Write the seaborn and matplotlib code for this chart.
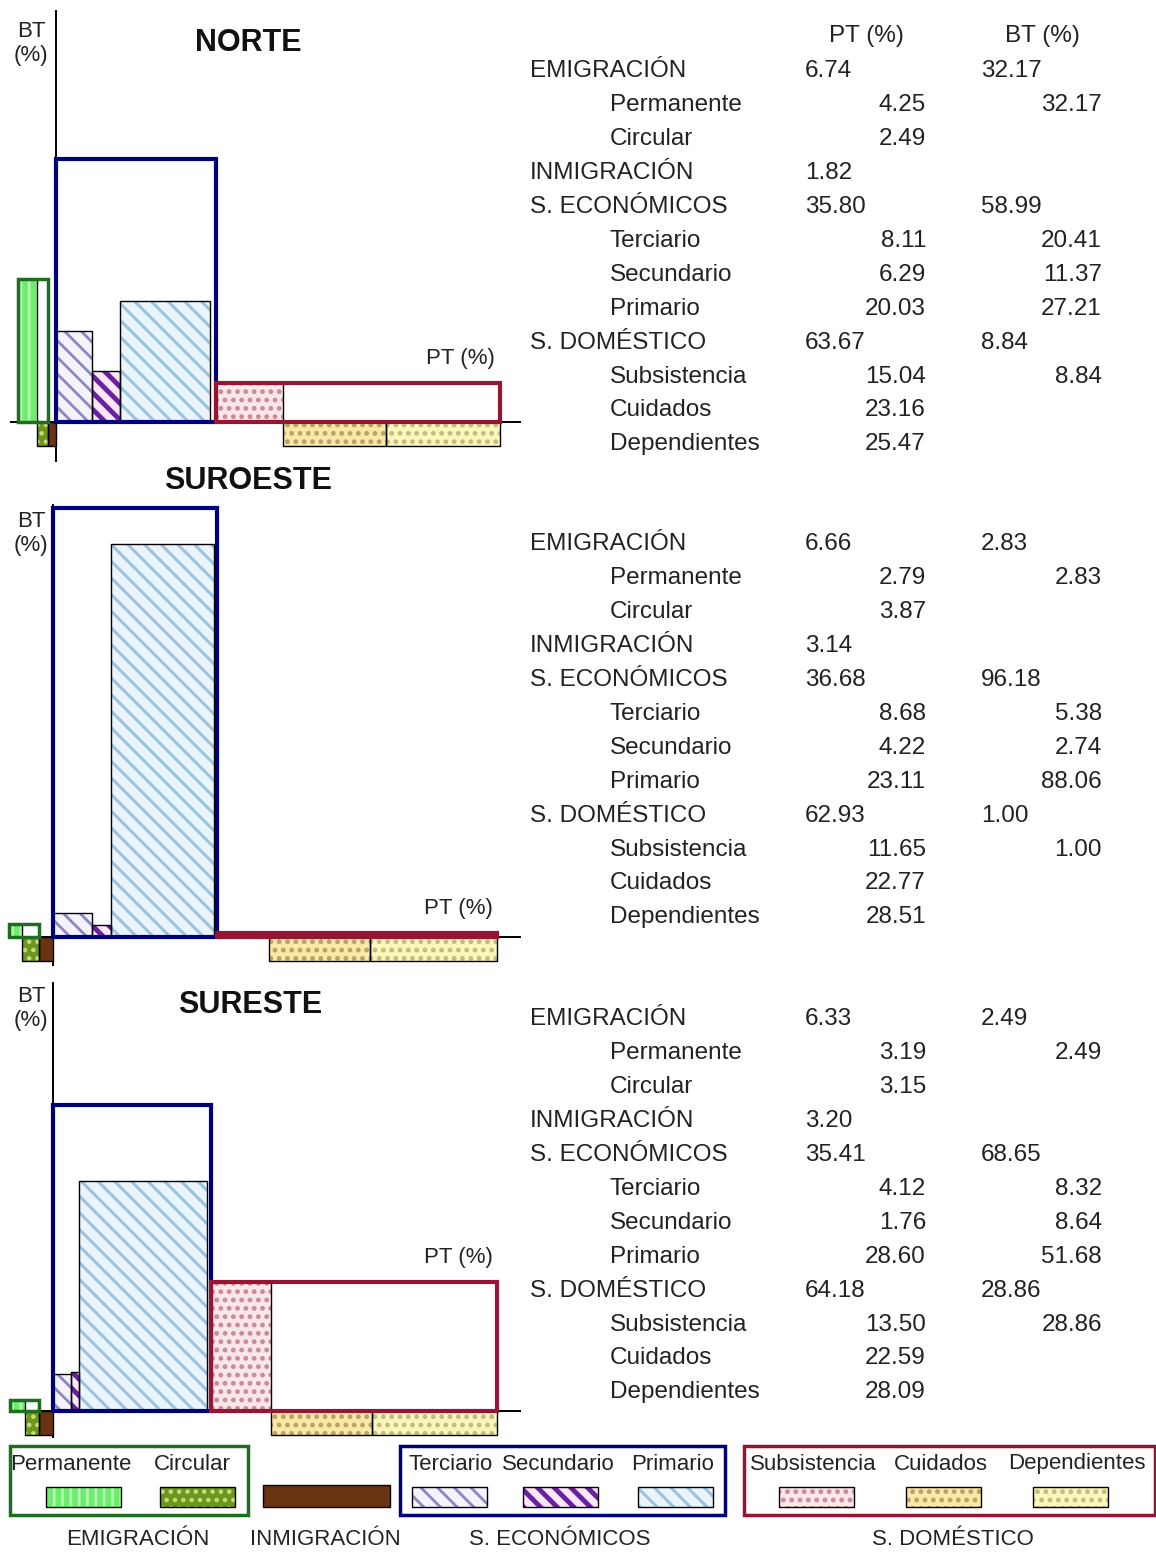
import matplotlib
matplotlib.use('Agg')
import matplotlib.pyplot as plt
import seaborn as sns
from matplotlib.patches import Rectangle

# Datos por región (PT % y BT %)
regiones = ['NORTE', 'SUROESTE', 'SURESTE']
emig_pt = [6.74, 6.66, 6.33]
emig_bt = [32.17, 2.83, 2.49]
perm_pt = [4.25, 2.79, 3.19]
perm_bt = [32.17, 2.83, 2.49]
circ_pt = [2.49, 3.87, 3.15]
inm_pt = [1.82, 3.14, 3.20]
econ_pt = [35.80, 36.68, 35.41]
econ_bt = [58.99, 96.18, 68.65]
terc_pt = [8.11, 8.68, 4.12]
terc_bt = [20.41, 5.38, 8.32]
sec_pt = [6.29, 4.22, 1.76]
sec_bt = [11.37, 2.74, 8.64]
prim_pt = [20.03, 23.11, 28.60]
prim_bt = [27.21, 88.06, 51.68]
dom_pt = [63.67, 62.93, 64.18]
dom_bt = [8.84, 1.00, 28.86]
subs_pt = [15.04, 11.65, 13.50]
subs_bt = [8.84, 1.00, 28.86]
cuid_pt = [23.16, 22.77, 22.59]
dep_pt = [25.47, 28.51, 28.09]

sns.set_theme(style='white')
plt.rcParams['font.family'] = ['Liberation Sans', 'DejaVu Sans']
plt.rcParams['hatch.linewidth'] = 2.0

W, H = 1156, 1552
S = 4.46          # pixeles por punto porcentual
PROF = 5.3        # profundidad de las barras sin BT (bajo el eje)
VERDE, AZUL, ROJO = '#1f6e1f', '#00007a', '#951532'

estilos = {
    'Permanente':   dict(color='#6cee6c', edgecolor='#b2f5b2', hatch='||', hlw=2.0),
    'Circular':     dict(color='#6c961c', edgecolor='#c6df7c', hatch='..', hlw=2.0),
    'Inmigración':  dict(color='#6a3413', edgecolor='#6a3413', hatch=None, hlw=1.0),
    'Terciario':    dict(color='#f4f2fb', edgecolor='#8a87c6', hatch='\\\\', hlw=2.0),
    'Secundario':   dict(color='#fbe6f6', edgecolor='#6a20a0', hatch='\\\\', hlw=3.5),
    'Primario':     dict(color='#e9f5fb', edgecolor='#9cc4dd', hatch='\\\\', hlw=2.2),
    'Subsistencia': dict(color='#fbe6ea', edgecolor='#c98a92', hatch='..', hlw=2.2),
    'Cuidados':     dict(color='#f8e9a6', edgecolor='#b9a06a', hatch='..', hlw=2.2),
    'Dependientes': dict(color='#fbf6bc', edgecolor='#c2bb7c', hatch='..', hlw=2.2),
}

fig = plt.figure(figsize=(W / 100, H / 100), dpi=100)


def fx(px):
    return px / W


def fy(py):
    return 1 - py / H


def grosor_trama(parches, lw):
    for p in parches:
        if hasattr(p, 'set_hatch_linewidth'):
            p.set_hatch_linewidth(lw)


def barra(ax, x0, w, h, nombre):
    e = estilos[nombre]
    b = ax.bar(x0, h, width=w, align='edge', color=e['color'], edgecolor=e['edgecolor'],
               hatch=e['hatch'], linewidth=0, zorder=2, clip_on=False)
    grosor_trama(b.patches, e['hlw'])
    ax.bar(x0, h, width=w, align='edge', fill=False, edgecolor='black',
           linewidth=1, zorder=3, clip_on=False)


def caja(ax, x0, w, h, color, lw=3):
    ax.bar(x0, h, width=w, align='edge', fill=False, edgecolor=color,
           linewidth=lw, zorder=4, clip_on=False)


# origen x, origen y, arriba, abajo (pixeles)
paneles = [(56, 422, 10, 462), (53, 937, 504, 966), (53, 1411, 982, 1438)]
titulos_xy = [(248, 43), (248, 481), (250, 1005)]
bt_lab_y = [30, 520, 995]
izq, der = 10, 521

for i, reg in enumerate(regiones):
    ox, oy, top, bot = paneles[i]
    ax = fig.add_axes([fx(izq), fy(bot), (der - izq) / W, (bot - top) / H])
    ax.set_xlim((izq - ox) / S, (der - ox) / S)
    ax.set_ylim(-(bot - oy) / S, (oy - top) / S)
    ax.set_axis_off()
    ax.axhline(0, color='black', lw=1.4, zorder=1)
    ax.axvline(0, color='black', lw=1.4, zorder=1)

    # Emigración e inmigración (a la izquierda del origen)
    x_em = -(inm_pt[i] + emig_pt[i])
    barra(ax, x_em, perm_pt[i], perm_bt[i], 'Permanente')
    barra(ax, x_em + perm_pt[i], circ_pt[i], -PROF, 'Circular')
    barra(ax, -inm_pt[i], inm_pt[i], -PROF, 'Inmigración')
    caja(ax, x_em, emig_pt[i], emig_bt[i], VERDE, lw=2.5)

    # Sectores económicos
    x = 0
    for pt, bt, nom in zip([terc_pt[i], sec_pt[i], prim_pt[i]],
                           [terc_bt[i], sec_bt[i], prim_bt[i]],
                           ['Terciario', 'Secundario', 'Primario']):
        barra(ax, x, pt, bt, nom)
        x += pt
    caja(ax, 0, econ_pt[i], econ_bt[i], AZUL)

    # Sector doméstico
    x = econ_pt[i]
    barra(ax, x, subs_pt[i], subs_bt[i], 'Subsistencia')
    x += subs_pt[i]
    barra(ax, x, cuid_pt[i], -PROF, 'Cuidados')
    x += cuid_pt[i]
    barra(ax, x, dep_pt[i], -PROF, 'Dependientes')
    caja(ax, econ_pt[i], dom_pt[i], dom_bt[i], ROJO)

    ax.text(econ_pt[i] + dom_pt[i] - 1.0, dom_bt[i] + 5.5, 'PT (%)', ha='right',
            va='center', fontsize=16, color='#222222')

    fig.text(fx(31), fy(bt_lab_y[i] + 13.5), 'BT\n(%)', ha='center', va='center',
             multialignment='center', fontsize=16, linespacing=1.2, color='#222222')
    tx, ty = titulos_xy[i]
    fig.text(fx(tx), fy(ty), reg, ha='center', va='center', fontsize=22,
             fontweight='bold', color='#111111')

# Tabla de valores
fig.text(fx(866), fy(36), 'PT (%)', ha='center', va='center', fontsize=17.5, color='#222222')
fig.text(fx(1042), fy(36), 'BT (%)', ha='center', va='center', fontsize=17.5, color='#222222')

fila0 = [68, 541, 1016]
paso = 33.95
for i in range(3):
    filas = [
        ('EMIGRACIÓN', True, emig_pt[i], emig_bt[i]),
        ('Permanente', False, perm_pt[i], perm_bt[i]),
        ('Circular', False, circ_pt[i], None),
        ('INMIGRACIÓN', True, inm_pt[i], None),
        ('S. ECONÓMICOS', True, econ_pt[i], econ_bt[i]),
        ('Terciario', False, terc_pt[i], terc_bt[i]),
        ('Secundario', False, sec_pt[i], sec_bt[i]),
        ('Primario', False, prim_pt[i], prim_bt[i]),
        ('S. DOMÉSTICO', True, dom_pt[i], dom_bt[i]),
        ('Subsistencia', False, subs_pt[i], subs_bt[i]),
        ('Cuidados', False, cuid_pt[i], None),
        ('Dependientes', False, dep_pt[i], None),
    ]
    for k, (nom, principal, pt, bt) in enumerate(filas):
        yb = fy(fila0[i] + k * paso + 9)
        kw = dict(fontsize=17.5, va='baseline', color='#222222')
        if principal:
            fig.text(fx(530), yb, nom, ha='left', **kw)
            fig.text(fx(805), yb, f'{pt:.2f}', ha='left', **kw)
            if bt is not None:
                fig.text(fx(981), yb, f'{bt:.2f}', ha='left', **kw)
        else:
            fig.text(fx(610), yb, nom, ha='left', **kw)
            fig.text(fx(926), yb, f'{pt:.2f}', ha='right', **kw)
            if bt is not None:
                fig.text(fx(1102), yb, f'{bt:.2f}', ha='right', **kw)

# Leyenda
axl = fig.add_axes([0, 0, 1, 112 / H])
axl.set_xlim(0, W)
axl.set_ylim(H, H - 112)
axl.set_axis_off()

grupos = [
    (VERDE, 10, 238, ['Permanente', 'Circular'], [71, 192], [46, 160]),
    (AZUL, 400, 325, ['Terciario', 'Secundario', 'Primario'], [451, 558, 673], [412, 523, 638]),
    (ROJO, 744, 411, ['Subsistencia', 'Cuidados', 'Dependientes'], [813, 941, 1077], [779, 906, 1033]),
]
for color, x0, ancho, noms, xt, xs in grupos:
    axl.add_patch(Rectangle((x0, 1446), ancho, 69, fill=False, edgecolor=color,
                            linewidth=2.5, clip_on=False))
    for nom, t, s in zip(noms, xt, xs):
        e = estilos[nom]
        axl.text(t, 1464, nom, ha='center', va='center', fontsize=16, color='#222222')
        p = axl.add_patch(Rectangle((s, 1487), 75, 20, facecolor=e['color'],
                                    edgecolor=e['edgecolor'], hatch=e['hatch'], linewidth=0))
        grosor_trama([p], e['hlw'])
        axl.add_patch(Rectangle((s, 1487), 75, 20, fill=False, edgecolor='black', linewidth=1))
e = estilos['Inmigración']
axl.add_patch(Rectangle((263, 1485), 127, 22, facecolor=e['color'], edgecolor='black', linewidth=1))

for nom, t in zip(['EMIGRACIÓN', 'INMIGRACIÓN', 'S. ECONÓMICOS', 'S. DOMÉSTICO'],
                  [138, 325, 560, 953]):
    axl.text(t, 1540, nom, ha='center', va='center', fontsize=16, color='#222222')

fig.savefig('out.png', dpi=100)
